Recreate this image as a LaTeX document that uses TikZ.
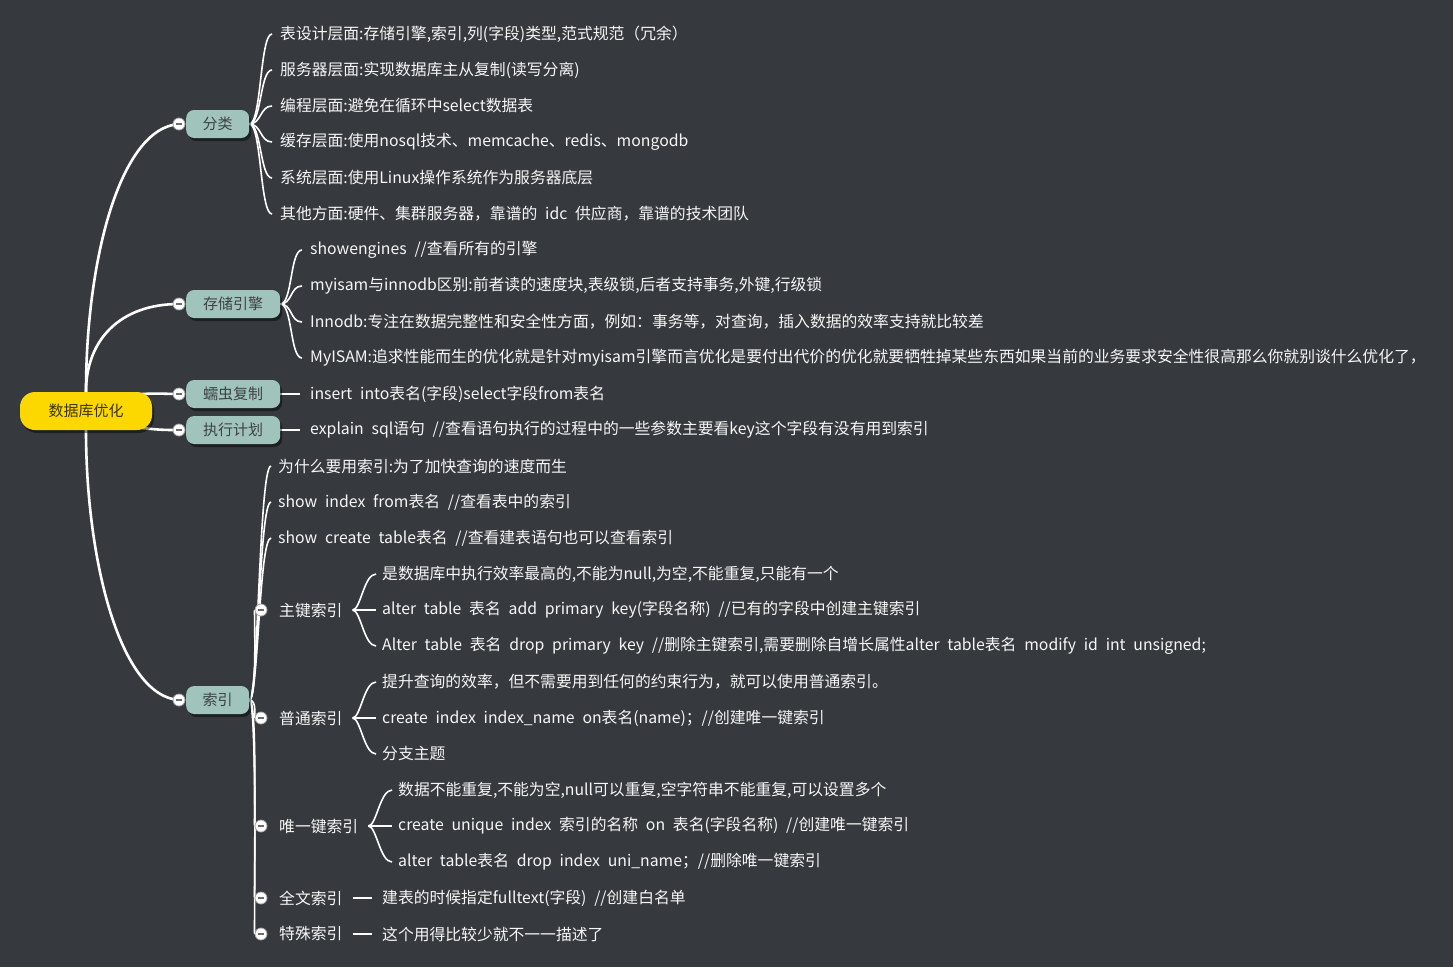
\documentclass[tikz,border=0pt]{standalone}
\usepackage{fontspec}
\setmainfont[WordSpace=2.2]{Noto Sans CJK SC}
\usetikzlibrary{calc,shadows}
\definecolor{bgc}{RGB}{54,58,62}
\definecolor{rootfill}{RGB}{252,216,0}
\definecolor{roottext}{RGB}{58,52,20}
\definecolor{topicfill}{RGB}{160,196,188}
\definecolor{topictext}{RGB}{62,66,68}
\definecolor{leaftext}{RGB}{246,246,246}
\pgfdeclarelayer{back}
\pgfdeclarelayer{edges}
\pgfsetlayers{back,edges,main}
\newcommand\mmlink[4]{\draw[conn] (#1) .. controls ($(#1)+(#4,0)$) and ($(#2.west)+(-#3-12,0)$) .. ($(#2.west)+(-#3,0)$);}
\newcommand\mmtocirc[2]{\draw[conn] (#1) .. controls ($(#1)+(8,0)$) and ($(#2)+(-7,0)$) .. (#2);}
\tikzset{
  rootnode/.style={fill=rootfill, rounded corners=15pt, minimum width=132pt, minimum height=38pt,
    inner sep=0pt, text=roottext, font=\fontsize{15}{15}\selectfont,
    drop shadow={shadow xshift=2pt, shadow yshift=-3pt, opacity=0.45, fill=black}},
  topic/.style={anchor=west, fill=topicfill, rounded corners=8pt, minimum height=28pt,
    inner sep=0pt, text=topictext, font=\fontsize{15}{15}\selectfont,
    drop shadow={shadow xshift=2pt, shadow yshift=-3pt, opacity=0.45, fill=black}},
  leaf/.style={anchor=west, inner sep=0pt, text=leaftext, font=\fontsize{15.8}{16}\selectfont},
  coll/.style={circle, fill=white, draw=gray!70, line width=0.8pt, minimum size=12pt, inner sep=0pt,
    path picture={\draw[gray!85!black, line width=1.3pt] ([xshift=-3.2pt]path picture bounding box.center) -- ([xshift=3.2pt]path picture bounding box.center);}},
  trunk/.style={draw=white, line width=2.6pt},
  conn/.style={draw=white, line width=1.6pt},
}
\begin{document}
\begin{tikzpicture}[x=1pt,y=-1pt]
\begin{pgfonlayer}{back}
\fill[bgc] (0,0) rectangle (1453,967);
\end{pgfonlayer}
\useasboundingbox (0,0) rectangle (1453,967);

% root and main topics
\node[rootnode] (root) at (86,411) {数据库优化};
\node[topic, minimum width=63pt] (fl) at (186,124) {分类};
\node[topic, minimum width=94pt] (cc) at (186,304) {存储引擎};
\node[topic, minimum width=94pt] (rc) at (186,394) {蠕虫复制};
\node[topic, minimum width=94pt] (zx) at (186,430) {执行计划};
\node[topic, minimum width=63pt] (sy) at (186,700) {索引};

\node[coll] (cfl) at (179,124) {};
\node[coll] (ccc) at (179,304) {};
\node[coll] (crc) at (179,394) {};
\node[coll] (czx) at (179,430) {};
\node[coll] (csy) at (179,700) {};

% 分类
\node[leaf] (f1) at (280,34) {表设计层面:存储引擎,索引,列(字段)类型,范式规范（冗余）};
\node[leaf] (f2) at (280,70) {服务器层面:实现数据库主从复制(读写分离)};
\node[leaf] (f3) at (280,106) {编程层面:避免在循环中select数据表};
\node[leaf] (f4) at (280,142) {缓存层面:使用nosql技术、memcache、redis、mongodb};
\node[leaf] (f5) at (280,178) {系统层面:使用Linux操作系统作为服务器底层};
\node[leaf] (f6) at (280,214) {其他方面:硬件、集群服务器，靠谱的 idc 供应商，靠谱的技术团队};

% 存储引擎
\node[leaf] (s1) at (310,250) {showengines //查看所有的引擎};
\node[leaf] (s2) at (310,286) {myisam与innodb区别:前者读的速度块,表级锁,后者支持事务,外键,行级锁};
\node[leaf] (s3) at (310,322) {Innodb:专注在数据完整性和安全性方面，例如：事务等，对查询，插入数据的效率支持就比较差};
\node[leaf] (s4) at (310,358) {MyISAM:追求性能而生的优化就是针对myisam引擎而言优化是要付出代价的优化就要牺牲掉某些东西如果当前的业务要求安全性很高那么你就别谈什么优化了，};

% 蠕虫复制 / 执行计划
\node[leaf] (r1) at (310,394) {insert into表名(字段)select字段from表名};
\node[leaf] (e1) at (310,430) {explain sql语句 //查看语句执行的过程中的一些参数主要看key这个字段有没有用到索引};

% 索引
\node[leaf] (i1) at (278,466) {为什么要用索引:为了加快查询的速度而生};
\node[leaf] (i2) at (278,502) {show index from表名 //查看表中的索引};
\node[leaf] (i3) at (278,538) {show create table表名 //查看建表语句也可以查看索引};

\node[leaf] (zj) at (279,610) {主键索引};
\node[leaf] (pt) at (279,718) {普通索引};
\node[leaf] (wy) at (279,826) {唯一键索引};
\node[leaf] (qw) at (279,898) {全文索引};
\node[leaf] (ts) at (279,934) {特殊索引};

\node[coll] (czj) at (261,610) {};
\node[coll] (cpt) at (261,718) {};
\node[coll] (cwy) at (261,826) {};
\node[coll] (cqw) at (261,898) {};
\node[coll] (cts) at (261,934) {};

\node[leaf] (zj1) at (382,574) {是数据库中执行效率最高的,不能为null,为空,不能重复,只能有一个};
\node[leaf] (zj2) at (382,610) {alter table 表名 add primary key(字段名称) //已有的字段中创建主键索引};
\node[leaf] (zj3) at (382,646) {Alter table 表名 drop primary key //删除主键索引,需要删除自增长属性alter table表名 modify id int unsigned;};

\node[leaf] (pt1) at (382,682) {提升查询的效率，但不需要用到任何的约束行为，就可以使用普通索引。};
\node[leaf] (pt2) at (382,718) {create index index\_name on表名(name)；//创建唯一键索引};
\node[leaf] (pt3) at (382,754) {分支主题};

\node[leaf] (wy1) at (398,790) {数据不能重复,不能为空,null可以重复,空字符串不能重复,可以设置多个};
\node[leaf] (wy2) at (398,826) {create unique index 索引的名称 on 表名(字段名称) //创建唯一键索引};
\node[leaf] (wy3) at (398,862) {alter table表名 drop index uni\_name；//删除唯一键索引};

\node[leaf] (qw1) at (382,898) {建表的时候指定fulltext(字段) //创建白名单};
\node[leaf] (ts1) at (382,934) {这个用得比较少就不一一描述了};

\coordinate (zjb) at ($(zj.east)+(10,0)$);
\coordinate (ptb) at ($(pt.east)+(10,0)$);
\coordinate (wyb) at ($(wy.east)+(10,0)$);
\coordinate (qwb) at ($(qw.east)+(10,0)$);
\coordinate (tsb) at ($(ts.east)+(10,0)$);

\begin{pgfonlayer}{edges}
% root to main topics
\draw[trunk] (root.north) .. controls (86,260) and (120,128) .. (cfl.center);
\draw[trunk] (root.north) .. controls (86,340) and (120,304) .. (ccc.center);
\draw[trunk] ($(root.center)+(56,-17)$) .. controls ($(root.center)+(75,-18)$) and ($(crc.center)+(-15,0)$) .. (crc.center);
\draw[trunk] ($(root.center)+(56,17)$) .. controls ($(root.center)+(75,19)$) and ($(czx.center)+(-15,0)$) .. (czx.center);
\draw[trunk] (root.south) .. controls (86,560) and (120,696) .. (csy.center);

% 分类
\foreach \n in {f1,f2,f3,f4,f5,f6} {\mmlink{fl.east}{\n}{8}{12}}
% 存储引擎
\foreach \n in {s1,s2,s3,s4} {\mmlink{cc.east}{\n}{8}{12}}
% 蠕虫复制 / 执行计划
\draw[conn] (rc.east) -- ($(r1.west)+(-10,0)$);
\draw[conn] (zx.east) -- ($(e1.west)+(-10,0)$);
% 索引
\foreach \n in {i1,i2,i3} {\mmlink{sy.east}{\n}{7}{9}}
\foreach \c in {czj,cpt,cwy,cqw,cts} {\mmtocirc{sy.east}{\c}}
% braces
\foreach \n in {zj1,zj2,zj3} {\mmlink{zjb}{\n}{6}{8}}
\foreach \n in {pt1,pt2,pt3} {\mmlink{ptb}{\n}{6}{8}}
\foreach \n in {wy1,wy2,wy3} {\mmlink{wyb}{\n}{6}{8}}
\draw[conn] (qwb) -- ($(qw1.west)+(-10,0)$);
\draw[conn] (tsb) -- ($(ts1.west)+(-10,0)$);
\end{pgfonlayer}
\end{tikzpicture}
\end{document}
